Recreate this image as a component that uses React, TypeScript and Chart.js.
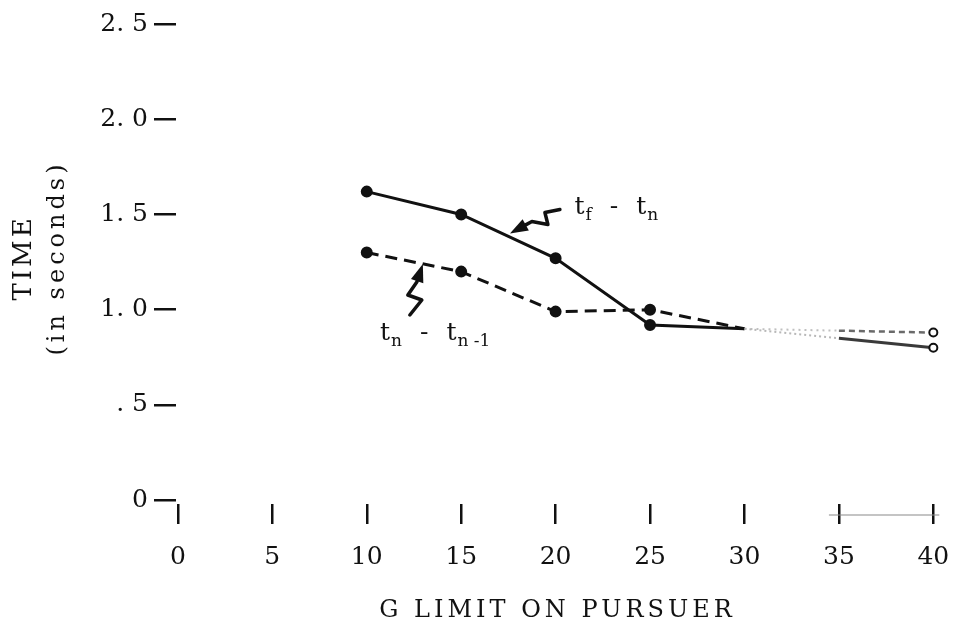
import React, { useEffect, useRef } from "react";
import { Chart, registerables } from "chart.js";

Chart.register(...registerables);

// ---- data ----
const gLimits = [10, 15, 20, 25, 30, 35, 40];
const tfMinusTn = [1.62, 1.5, 1.27, 0.92, 0.9, 0.85, 0.8];
const tnMinusTnPrev = [1.3, 1.2, 0.99, 1.0, 0.9, 0.89, 0.88];
const xTickValues = [0, 5, 10, 15, 20, 25, 30, 35, 40];
const yTickValues = [0, 0.5, 1.0, 1.5, 2.0, 2.5];
const yTickLabels = ["0", ". 5", "1. 0", "1. 5", "2. 0", "2. 5"];
const xTitle = "G LIMIT ON PURSUER";
const yTitle = ["TIME", "(in seconds)"];

const FONT = "'DejaVu Serif', 'Liberation Serif', serif";

type Part = { t: string; sub?: string };

function drawSubText(ctx: CanvasRenderingContext2D, x: number, y: number, parts: Part[], gap: number) {
  let cx = x;
  parts.forEach((p, i) => {
    ctx.font = `25px ${FONT}`;
    ctx.fillText(p.t, cx, y);
    cx += ctx.measureText(p.t).width;
    if (p.sub) {
      ctx.font = `17px ${FONT}`;
      ctx.fillText(p.sub, cx + 1, y + 6);
      cx += ctx.measureText(p.sub).width + 1;
    }
    if (i < parts.length - 1) cx += gap;
  });
}

function drawArrow(ctx: CanvasRenderingContext2D, tipX: number, tipY: number, offsets: number[][]) {
  ctx.beginPath();
  offsets.forEach(([dx, dy], i) => {
    if (i === 0) ctx.moveTo(tipX + dx, tipY + dy);
    else ctx.lineTo(tipX + dx, tipY + dy);
  });
  const last = offsets[offsets.length - 1];
  const len = Math.hypot(last[0], last[1]);
  const ux = -last[0] / len;
  const uy = -last[1] / len;
  const headLen = 18;
  const bx = tipX - ux * headLen;
  const by = tipY - uy * headLen;
  ctx.lineTo(bx, by);
  ctx.stroke();
  const px = -uy;
  const py = ux;
  ctx.beginPath();
  ctx.moveTo(tipX, tipY);
  ctx.lineTo(bx + px * 6.5, by + py * 6.5);
  ctx.lineTo(bx - px * 6.5, by - py * 6.5);
  ctx.closePath();
  ctx.fill();
}

const decorPlugin = {
  id: "decor",
  afterDraw(chart: any) {
    const { ctx, scales, chartArea } = chart;
    const x = scales.x;
    const y = scales.y;
    ctx.save();
    ctx.fillStyle = "#111";
    ctx.strokeStyle = "#111";

    // axis titles with letter spacing
    ctx.textAlign = "center";
    ctx.textBaseline = "middle";
    (ctx as any).letterSpacing = "4px";
    ctx.font = `24px ${FONT}`;
    ctx.fillText(xTitle, (chartArea.left + chartArea.right) / 2, 611);
    const cy = (chartArea.top + chartArea.bottom) / 2 - 6;
    ctx.save();
    ctx.translate(24, cy);
    ctx.rotate(-Math.PI / 2);
    (ctx as any).letterSpacing = "3px";
    ctx.font = `26px ${FONT}`;
    ctx.fillText(yTitle[0], 0, 0);
    ctx.restore();
    ctx.save();
    ctx.translate(58, cy);
    ctx.rotate(-Math.PI / 2);
    (ctx as any).letterSpacing = "4px";
    ctx.font = `24px ${FONT}`;
    ctx.fillText(yTitle[1], 0, 0);
    ctx.restore();
    (ctx as any).letterSpacing = "0px";

    // faint rule between 35 and 40 at tick height
    ctx.strokeStyle = "#8a8a8a";
    ctx.lineWidth = 1.2;
    ctx.beginPath();
    ctx.moveTo(x.getPixelForValue(35) - 10, chartArea.bottom + 11);
    ctx.lineTo(x.getPixelForValue(40) + 6, chartArea.bottom + 11);
    ctx.stroke();

    // labels
    ctx.fillStyle = "#111";
    ctx.strokeStyle = "#111";
    ctx.textAlign = "left";
    ctx.textBaseline = "alphabetic";
    drawSubText(ctx, x.getPixelForValue(21), y.getPixelForValue(1.5), [{ t: "t", sub: "f" }, { t: "-" }, { t: "t", sub: "n" }], 18);
    drawSubText(ctx, x.getPixelForValue(10.7), y.getPixelForValue(0.84), [{ t: "t", sub: "n" }, { t: "-" }, { t: "t", sub: "n -1" }], 18);

    // squiggle arrows
    ctx.lineWidth = 3.5;
    ctx.lineJoin = "round";
    ctx.lineCap = "round";
    drawArrow(ctx, x.getPixelForValue(17.58), y.getPixelForValue(1.4), [
      [50, -24],
      [35, -21],
      [38, -9],
      [22, -12],
    ]);
    drawArrow(ctx, x.getPixelForValue(12.97), y.getPixelForValue(1.24), [
      [-13, 51],
      [-1, 36],
      [-15, 31],
      [-6, 18],
    ]);
    ctx.restore();
  },
};

export default function App() {
  const ref = useRef<HTMLCanvasElement | null>(null);

  useEffect(() => {
    document.body.style.margin = "0";
    if (!ref.current) return;
    const solidData = gLimits.map((g, i) => ({ x: g, y: tfMinusTn[i] }));
    const dashedData = gLimits.map((g, i) => ({ x: g, y: tnMinusTnPrev[i] }));

    const chart = new Chart(ref.current, {
      type: "line",
      data: {
        datasets: [
          {
            label: "tf - tn",
            data: solidData,
            borderColor: "#111",
            borderWidth: 3,
            pointRadius: [5, 5, 5, 5, 0, 0, 4],
            pointBackgroundColor: ["#111", "#111", "#111", "#111", "#111", "#111", "#fff"],
            pointBorderColor: "#111",
            pointBorderWidth: 2,
            tension: 0,
            clip: false as any,
            segment: {
              borderColor: (c: any) => (c.p0DataIndex === 4 ? "#b8b8b8" : c.p0DataIndex === 5 ? "#3a3a3a" : "#111"),
              borderDash: (c: any) => (c.p0DataIndex === 4 ? [2, 3] : []),
              borderWidth: (c: any) => (c.p0DataIndex === 4 ? 2 : 3),
            } as any,
          },
          {
            label: "tn - tn-1",
            data: dashedData,
            borderColor: "#111",
            borderWidth: 3,
            borderDash: [12, 7],
            pointRadius: [5, 5, 5, 5, 0, 0, 4],
            pointBackgroundColor: ["#111", "#111", "#111", "#111", "#111", "#111", "#fff"],
            pointBorderColor: "#111",
            pointBorderWidth: 2,
            tension: 0,
            clip: false as any,
            segment: {
              borderColor: (c: any) => (c.p0DataIndex === 4 ? "#c0c0c0" : c.p0DataIndex === 5 ? "#6a6a6a" : "#111"),
              borderDash: (c: any) => (c.p0DataIndex === 4 ? [2, 4] : c.p0DataIndex === 5 ? [6, 4] : [12, 7]),
              borderWidth: (c: any) => (c.p0DataIndex === 4 ? 2 : c.p0DataIndex === 5 ? 2.5 : 3),
            } as any,
          },
        ],
      },
      options: {
        animation: false,
        responsive: false,
        layout: { padding: { top: 24, right: 18, left: 0, bottom: 0 } },
        plugins: { legend: { display: false }, tooltip: { enabled: false } },
        scales: {
          x: {
            type: "linear",
            min: -0.1,
            max: 40.3,
            afterBuildTicks: (s: any) => {
              s.ticks = xTickValues.map((v) => ({ value: v }));
            },
            afterFit: (s: any) => {
              s.height = 121;
              s.paddingLeft = 0;
              s.paddingRight = 0;
            },
            ticks: {
              color: "#111",
              font: { family: FONT, size: 25 },
              padding: 18,
              maxRotation: 0,
              autoSkip: false,
              callback: (v: any) => String(v),
            },
            grid: {
              drawOnChartArea: false,
              drawTicks: true,
              tickLength: 20,
              color: "#111",
              lineWidth: 2.5,
            },
            border: { display: false },
            title: { display: false },
          },
          y: {
            type: "linear",
            min: -0.02,
            max: 2.5,
            afterBuildTicks: (s: any) => {
              s.ticks = yTickValues.map((v) => ({ value: v }));
            },
            afterFit: (s: any) => {
              s.width = 176;
              s.paddingTop = 0;
              s.paddingBottom = 0;
            },
            ticks: {
              color: "#111",
              font: { family: FONT, size: 25 },
              padding: 6,
              autoSkip: false,
              callback: (v: any) => {
                const i = yTickValues.findIndex((t) => Math.abs(t - Number(v)) < 1e-6);
                return i >= 0 ? yTickLabels[i] : "";
              },
            },
            grid: {
              drawOnChartArea: false,
              drawTicks: true,
              tickLength: 22,
              color: "#111",
              lineWidth: 2.5,
            },
            border: { display: false },
            title: { display: false },
          },
        },
      },
      plugins: [decorPlugin],
    });
    return () => chart.destroy();
  }, []);

  return (
    <div style={{ width: 957, height: 625, background: "#fff" }}>
      <canvas ref={ref} width={957} height={625} style={{ display: "block" }} />
    </div>
  );
}
